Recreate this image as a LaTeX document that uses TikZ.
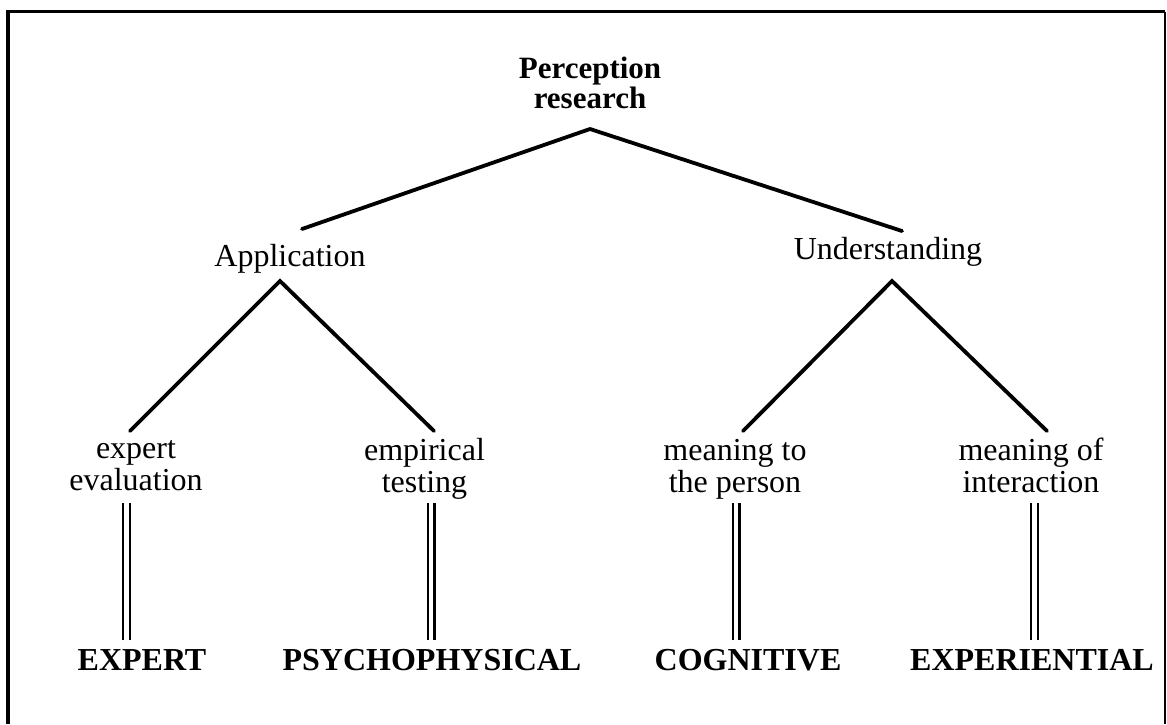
\documentclass[tikz,border=0pt]{standalone}
\usepackage{fontspec}
\setmainfont{Liberation Serif}
\begin{document}
\begin{tikzpicture}[x=1pt,y=-1pt,
  term/.style={font=\fontsize{32}{32}\selectfont, align=center, inner sep=0pt, anchor=base},
  head/.style={font=\fontsize{31}{30}\selectfont\bfseries, align=center, inner sep=0pt, anchor=base},
  kind/.style={font=\fontsize{32}{32}\selectfont\bfseries, inner sep=0pt, anchor=base},
  branch/.style={line width=3.8pt, line cap=round, line join=miter},
  equiv/.style={double, double distance=4.6pt, line width=2.2pt},
  rim/.style={line width=3.6pt}]
\useasboundingbox (0,0) rectangle (1167,724);

% open frame: left, top and right edges
\draw[rim] (8,724) -- (8,11.5) -- (1165,11.5);
\draw[line width=1.8pt] (1165,11.5) -- (1165,724);

% labels (two-line labels are placed by the baseline of their last line)
\node[head] (perc) at (590,108) {Perception\\research};
\node[term] (app) at (290,266) {Application};
\node[term] (und) at (888,259) {Understanding};
\node[term] (eval) at (136,490) {expert\\evaluation};
\node[term] (test) at (424.5,492) {empirical\\testing};
\node[term] (pers) at (735,492) {meaning to\\the person};
\node[term] (inter) at (1031,492) {meaning of\\interaction};
\node[kind] (expert) at (142,670) {EXPERT};
\node[kind] (psych) at (432,670) {PSYCHOPHYSICAL};
\node[kind] (cogn) at (748,670) {COGNITIVE};
\node[kind] (exper) at (1032,670) {EXPERIENTIAL};

% branch points
\coordinate (perc-fork) at (590,129);
\coordinate (app-top) at (302,229);
\coordinate (und-top) at (902,231);
\coordinate (app-fork) at (280,281);
\coordinate (eval-top) at (130,431);
\coordinate (test-top) at (434,431);
\coordinate (und-fork) at (892,281);
\coordinate (pers-top) at (743,431);
\coordinate (inter-top) at (1047,431);

\draw[branch] (app-top) -- (perc-fork) -- (und-top);
\draw[branch] (eval-top) -- (app-fork) -- (test-top);
\draw[branch] (pers-top) -- (und-fork) -- (inter-top);

% equivalence links
\coordinate (eval-a) at (126.5,503);  \coordinate (eval-b) at (126.5,640);
\coordinate (test-a) at (431,503);    \coordinate (test-b) at (431,640);
\coordinate (pers-a) at (736,503);    \coordinate (pers-b) at (736,640);
\coordinate (inter-a) at (1034.5,503); \coordinate (inter-b) at (1034.5,640);
\draw[equiv] (eval-a) -- (eval-b);
\draw[equiv] (test-a) -- (test-b);
\draw[equiv] (pers-a) -- (pers-b);
\draw[equiv] (inter-a) -- (inter-b);
\end{tikzpicture}
\end{document}
